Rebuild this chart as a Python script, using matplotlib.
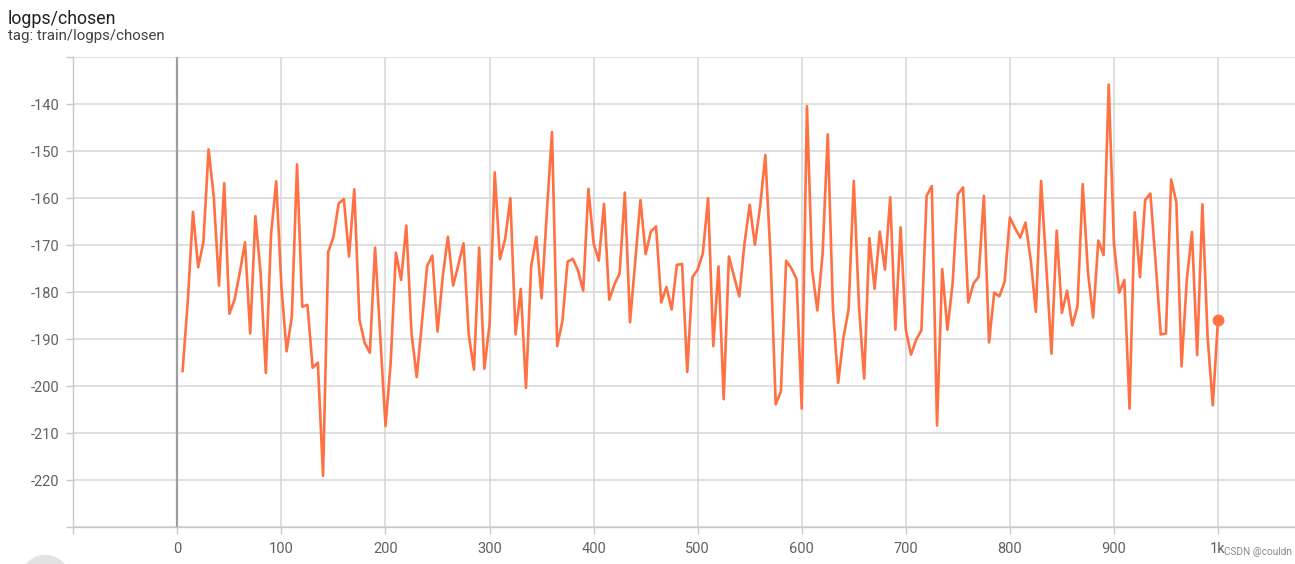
import numpy as np
import matplotlib
matplotlib.use('Agg')
import matplotlib.pyplot as plt
from matplotlib.patches import Ellipse

plt.rcParams['font.family'] = ['Roboto', 'DejaVu Sans']

# training steps (logged every 5 steps)
steps = np.arange(5, 1001, 5)
logps_chosen = [
    -196.8, -182.0, -162.9, -174.7, -169.4, -149.6, -159.7, -178.6, -156.8, -184.6,
    -181.6, -175.8, -169.4, -188.8, -163.8, -176.0, -197.2, -167.8, -156.4, -178.8,
    -192.6, -185.2, -152.8, -183.1, -182.7, -196.1, -195.0, -219.1, -171.4, -168.3,
    -161.1, -160.2, -172.4, -158.1, -185.9, -190.8, -192.9, -170.5, -189.4, -208.5,
    -195.0, -171.6, -177.4, -165.8, -188.7, -198.1, -186.6, -174.4, -172.2, -188.4,
    -176.7, -168.2, -178.6, -174.2, -169.6, -189.0, -196.5, -170.5, -196.3, -186.9,
    -154.5, -173.0, -168.7, -160.0, -189.0, -179.3, -200.4, -174.5, -168.2, -181.3,
    -163.2, -145.9, -191.5, -186.2, -173.5, -172.9, -175.4, -179.7, -158.0, -169.6,
    -173.3, -161.2, -181.6, -178.4, -176.0, -158.8, -186.4, -173.5, -160.4, -171.9,
    -167.1, -166.0, -182.2, -178.9, -183.7, -174.2, -174.0, -197.0, -176.8, -175.2,
    -171.7, -160.0, -191.5, -174.5, -202.8, -172.4, -176.7, -180.9, -169.6, -161.4,
    -169.9, -161.8, -150.8, -172.4, -203.9, -201.1, -173.3, -174.9, -177.2, -204.8,
    -140.4, -175.2, -183.9, -172.0, -146.4, -183.7, -199.3, -189.8, -183.7, -156.3,
    -183.0, -198.4, -168.5, -179.3, -167.1, -175.2, -159.8, -188.0, -166.2, -188.0,
    -193.3, -190.1, -188.1, -159.5, -157.4, -208.4, -175.1, -188.0, -178.1, -159.2,
    -157.7, -182.2, -178.2, -176.7, -159.5, -190.7, -180.1, -180.9, -177.7, -164.1,
    -166.4, -168.4, -165.2, -173.1, -184.2, -156.3, -174.5, -193.1, -166.9, -184.4,
    -179.7, -187.1, -183.0, -157.0, -175.6, -185.4, -169.0, -172.1, -135.8, -169.6,
    -180.1, -177.4, -204.8, -163.0, -176.8, -160.4, -159.0, -173.5, -189.0, -188.8,
    -156.0, -160.9, -195.8, -177.4, -167.2, -193.4, -161.3, -189.4, -204.1, -185.9,
]
yticks = list(range(-230, -129, 10))
xticks = list(range(-100, 1001, 100))
xlabels = [''] + [str(t) for t in range(0, 1000, 100)] + ['1k']
ylabels = [''] + [str(t) for t in range(-220, -139, 10)] + ['']

col = '#ff7043'
grid_col = '#d6d6d6'
txt_col = '#616161'

fig = plt.figure(figsize=(12.95, 5.64), dpi=100)
ax = fig.add_axes([0.0566, 0.0656, 0.9434, 0.8328])

ax.plot(steps, logps_chosen, color=col, lw=1.9, zorder=3)
ax.plot(steps[-1], logps_chosen[-1], 'o', color=col, ms=7.5, zorder=4)

ax.set_xlim(-100, 1074)
ax.set_ylim(-229.8, -130.1)
ax.set_xticks(xticks)
ax.set_xticklabels(xlabels)
ax.set_yticks(yticks)
ax.set_yticklabels(ylabels)
ax.grid(True, color=grid_col, lw=1.1)
ax.axvline(0, color='#9e9e9e', lw=1.6, zorder=2)

for s in ['top', 'right']:
    ax.spines[s].set_visible(False)
for s in ['left', 'bottom']:
    ax.spines[s].set_color('#c8c8c8')
    ax.spines[s].set_linewidth(1.0)
ax.tick_params(colors='#c8c8c8', labelcolor=txt_col, labelsize=10.5, length=5, width=1.0)
ax.tick_params(axis='x', pad=6)
ax.tick_params(axis='y', pad=5)

fig.text(0.006, 0.967, 'logps/chosen', fontsize=12.8, color='#212121', va='center')
fig.text(0.006, 0.936, 'tag: train/logps/chosen', fontsize=10.8, color='#424242', va='center')
fig.text(0.998, 0.022, 'CSDN @couldn', fontsize=7.2, color='#8a8a8a', ha='right', va='center')
fig.patches.append(Ellipse((0.035, -0.028), 50 / 1295, 50 / 564, transform=fig.transFigure,
                           facecolor='#e2e2e2', edgecolor='none'))

fig.savefig('out.png', dpi=100)
